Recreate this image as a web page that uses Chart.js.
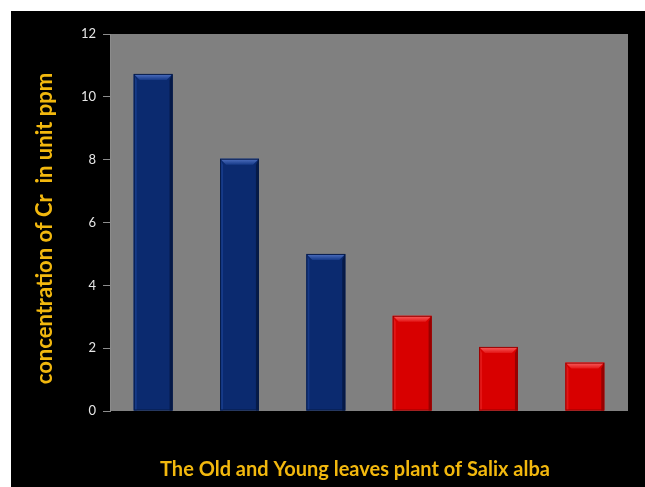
<!DOCTYPE html>
<html>
<head>
<meta charset="utf-8">
<script src="https://cdn.jsdelivr.net/npm/chart.js@4/dist/chart.umd.min.js"></script>
<style>
  html, body { margin: 0; padding: 0; background: #ffffff; overflow: hidden; width: 645px; height: 487px; }
  #frame { position: absolute; left: 11px; top: 11px; width: 634px; height: 476px; background: #000000; }
  canvas { display: block; }
</style>
</head>
<body>
<div id="frame"><canvas id="chart" width="634" height="476"></canvas></div>
<script>
// Cr concentration in old (blue) and young (red) leaves of Salix alba
const categories = ['Old 1', 'Old 2', 'Old 3', 'Young 1', 'Young 2', 'Young 3'];
const crValues = [10.73, 8.03, 5.0, 3.03, 2.04, 1.54];
const leafGroup = ['old', 'old', 'old', 'young', 'young', 'young'];
const yTicks = [0, 2, 4, 6, 8, 10, 12];
const yTitle = 'concentration of Cr  in unit ppm';
const xTitle = 'The Old and Young leaves plant of Salix alba';

const palette = {
  old:   { base: '#0b2a6f', light: '#5273c2', side: '#163a88', dark: '#061a48' },
  young: { base: '#d80000', light: '#f86060', side: '#e41616', dark: '#980000' }
};

// gray plot background
const plotBackground = {
  id: 'plotBackground',
  beforeDraw(chart) {
    const { ctx, chartArea: a } = chart;
    ctx.save();
    ctx.fillStyle = '#808080';
    ctx.fillRect(a.left, a.top, a.right - a.left, a.bottom - a.top);
    ctx.restore();
  }
};

// bevelled look on each bar, using the bar elements' own geometry
const bevelBars = {
  id: 'bevelBars',
  afterDatasetsDraw(chart) {
    const { ctx } = chart;
    const meta = chart.getDatasetMeta(0);
    meta.data.forEach((bar, i) => {
      const p = bar.getProps(['x', 'y', 'base', 'width'], true);
      const c = palette[leafGroup[i]];
      const l = p.x - p.width / 2, r = p.x + p.width / 2;
      const t = p.y, b = p.base;
      const bv = 6;
      ctx.save();
      // top bevel
      const g = ctx.createLinearGradient(0, t, 0, t + bv);
      g.addColorStop(0, c.light);
      g.addColorStop(1, c.side);
      ctx.fillStyle = g;
      ctx.beginPath();
      ctx.moveTo(l, t); ctx.lineTo(r, t); ctx.lineTo(r - bv, t + bv); ctx.lineTo(l + bv, t + bv);
      ctx.closePath(); ctx.fill();
      // left bevel
      ctx.fillStyle = c.side;
      ctx.beginPath();
      ctx.moveTo(l, t); ctx.lineTo(l + bv * 0.5, t + bv); ctx.lineTo(l + bv * 0.5, b); ctx.lineTo(l, b);
      ctx.closePath(); ctx.fill();
      // right bevel
      ctx.fillStyle = c.dark;
      ctx.beginPath();
      ctx.moveTo(r, t); ctx.lineTo(r - bv * 0.5, t + bv); ctx.lineTo(r - bv * 0.5, b); ctx.lineTo(r, b);
      ctx.closePath(); ctx.fill();
      // outline
      ctx.strokeStyle = c.dark;
      ctx.lineWidth = 1;
      ctx.strokeRect(l + 0.5, t + 0.5, p.width - 1, b - t - 1);
      ctx.restore();
    });
  }
};

// axis captions
const axisCaptions = {
  id: 'axisCaptions',
  afterDraw(chart) {
    const { ctx, chartArea: a } = chart;
    ctx.save();
    ctx.fillStyle = '#f2b80e';
    ctx.textAlign = 'center';
    ctx.textBaseline = 'middle';
    ctx.font = 'bold 20px Lato, "Open Sans", sans-serif';
    ctx.fillText(xTitle, 344, 459);
    ctx.font = 'bold 22px Lato, "Open Sans", sans-serif';
    ctx.translate(34, (a.top + a.bottom) / 2 + 6);
    ctx.rotate(-Math.PI / 2);
    ctx.fillText(yTitle, 0, 0);
    ctx.restore();
  }
};

new Chart(document.getElementById('chart'), {
  type: 'bar',
  data: {
    labels: categories,
    datasets: [{
      data: crValues,
      backgroundColor: leafGroup.map(g => palette[g].base),
      borderWidth: 0,
      categoryPercentage: 1.0,
      barPercentage: 0.45
    }]
  },
  options: {
    responsive: false,
    animation: false,
    layout: { padding: { top: 23, right: 17, left: 0, bottom: 0 } },
    plugins: { legend: { display: false }, tooltip: { enabled: false } },
    scales: {
      x: {
        grid: { display: false },
        border: { display: false },
        ticks: { display: false },
        afterFit(scale) { scale.height = 76; }
      },
      y: {
        min: 0,
        max: 12,
        afterBuildTicks(scale) { scale.ticks = yTicks.map(v => ({ value: v })); },
        ticks: {
          color: '#e6e6e6',
          font: { family: 'Lato, "Open Sans", sans-serif', size: 13 },
          padding: 7
        },
        grid: {
          drawOnChartArea: false,
          drawTicks: true,
          tickLength: 7,
          color: '#8c8c8c'
        },
        border: { display: true, color: '#8c8c8c' },
        afterFit(scale) { scale.width = 99; }
      }
    }
  },
  plugins: [plotBackground, bevelBars, axisCaptions]
});
</script>
</body>
</html>
